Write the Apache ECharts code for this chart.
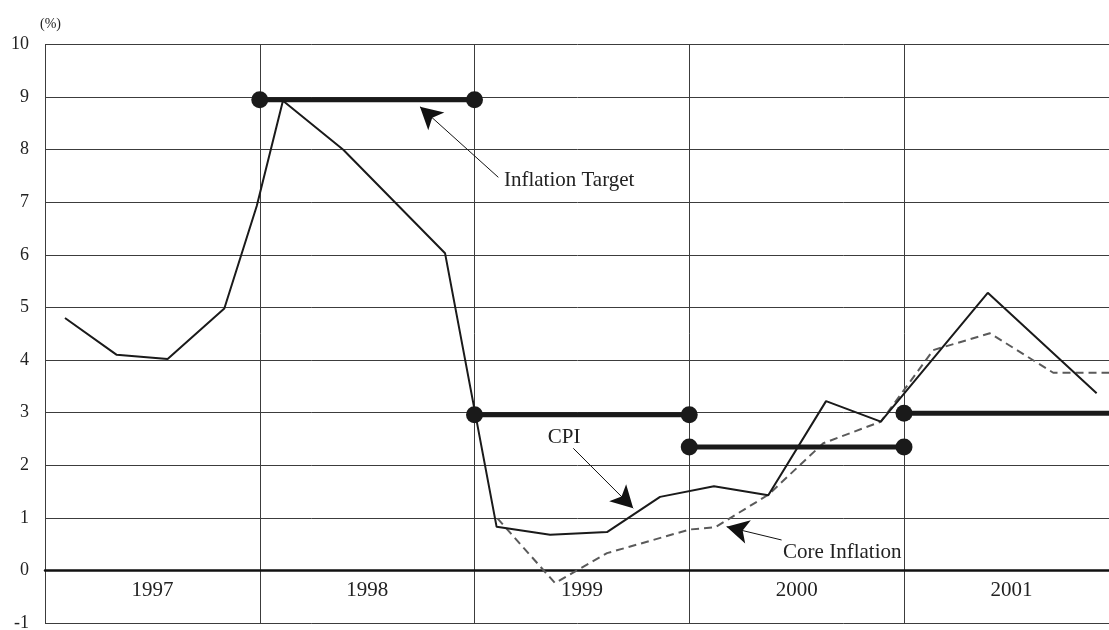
<!DOCTYPE html>
<html>
<head>
<meta charset="utf-8">
<title>CPI and Inflation Target</title>
<script src="https://cdn.jsdelivr.net/npm/echarts@6/dist/echarts.min.js"></script>
<style>
  html, body { margin: 0; padding: 0; background: #fff; }
  #chart { width: 1109px; height: 630px; }
</style>
</head>
<body>
<div id="chart"></div>
<script>
// year labels under the zero line
const years = ['1997', '1998', '1999', '2000', '2001'];

// CPI (solid line), x in years
const cpiX = [1997.093, 1997.334, 1997.571, 1997.835, 1997.986, 1998.108, 1998.389, 1998.863,
  1999.103, 1999.352, 1999.617, 1999.864, 2000.115, 2000.368, 2000.637, 2000.892, 2001.390, 2001.897];
const cpiY = [4.80, 4.10, 4.02, 4.98, 6.93, 8.93, 8.00, 6.03,
  0.83, 0.68, 0.73, 1.40, 1.60, 1.43, 3.22, 2.83, 5.28, 3.37];

// core inflation (dashed line)
const coreX = [1999.107, 1999.375, 1999.617, 2000.003, 2000.12, 2000.368, 2000.624, 2000.892,
  2001.136, 2001.40, 2001.695, 2002];
const coreY = [0.99, -0.24, 0.33, 0.78, 0.82, 1.44, 2.42, 2.83, 4.19, 4.51, 3.76, 3.76];

// inflation target per year
const targetStart = [1998, 1999, 2000, 2001];
const targetEnd = [1999, 2000, 2001, 2002];
const targetValue = [8.95, 2.96, 2.35, 2.99];

// annotations (text + arrows), in data coords
const noteText = ['Inflation Target', 'CPI', 'Core Inflation'];
const notePos = [[1999.137, 7.41], [1999.417, 2.53], [2000.437, 0.34]];
const noteAlign = ['left', 'center', 'left'];
const arrowFrom = [[1999.111, 7.475], [1999.460, 2.323], [2000.430, 0.58]];
const arrowTo = [[1998.746, 8.817], [1999.739, 1.183], [2000.174, 0.833]];

const font = 'Liberation Serif';
const ink = '#1a1a1a';
const gridColor = '#3c3c3c';

let myChart = echarts.init(document.getElementById('chart'), null, { renderer: 'canvas' });

let targetSeries = targetValue.map((v, i) => ({
  name: 'target' + i,
  type: 'line',
  data: [[targetStart[i], v], [targetEnd[i], v]],
  symbol: 'circle',
  symbolSize: 17,
  itemStyle: { color: ink },
  lineStyle: { color: ink, width: 5 },
  z: 4
}));

let option = {
  animation: false,
  title: {
    text: '(%)',
    left: 40,
    top: 17,
    padding: 0,
    textStyle: { fontFamily: font, fontSize: 14, fontWeight: 'normal', color: '#222' }
  },
  grid: {
    left: 45,
    right: -9.75,
    top: 44.5,
    bottom: 6.9,
    containLabel: false,
    outerBoundsMode: 'none'
  },
  xAxis: [
    {
      type: 'value',
      min: 1997,
      max: 2002,
      interval: 1,
      axisLine: { show: true, onZero: true, lineStyle: { color: '#111', width: 2.5 } },
      axisTick: { show: false },
      axisLabel: { show: false },
      splitLine: { show: true, lineStyle: { color: gridColor, width: 1 } }
    },
    {
      type: 'category',
      position: 'bottom',
      data: years,
      boundaryGap: true,
      axisLine: { show: false, onZero: false },
      axisTick: { show: false },
      splitLine: { show: false },
      axisLabel: {
        inside: true,
        margin: 32.6,
        verticalAlign: 'middle',
        fontFamily: font,
        fontSize: 21,
        color: '#222'
      }
    }
  ],
  yAxis: {
    type: 'value',
    min: -1,
    max: 10,
    interval: 1,
    axisLine: { show: true, lineStyle: { color: gridColor, width: 1 } },
    axisTick: { show: false },
    axisLabel: { margin: 16, fontFamily: font, fontSize: 18, color: '#222' },
    splitLine: { show: true, lineStyle: { color: gridColor, width: 1 } }
  },
  series: [
    {
      name: 'CPI',
      type: 'line',
      data: cpiX.map((x, i) => [x, cpiY[i]]),
      symbol: 'none',
      lineStyle: { color: ink, width: 2 },
      z: 3,
      markLine: {
        silent: true,
        symbol: ['none', 'arrow'],
        symbolSize: [18, 22],
        label: { show: false },
        lineStyle: { color: '#111', width: 1, type: 'solid' },
        data: arrowFrom.map((p, i) => [{ coord: p }, { coord: arrowTo[i] }])
      },
      markPoint: {
        silent: true,
        symbol: 'circle',
        symbolSize: 1,
        itemStyle: { color: 'rgba(0,0,0,0)' },
        label: {
          show: true,
          position: 'inside',
          fontFamily: font,
          fontSize: 21,
          color: '#222'
        },
        data: noteText.map((t, i) => ({
          coord: notePos[i],
          value: t,
          label: { formatter: t, align: noteAlign[i], verticalAlign: 'middle' }
        }))
      }
    },
    {
      name: 'Core Inflation',
      type: 'line',
      data: coreX.map((x, i) => [x, coreY[i]]),
      symbol: 'none',
      lineStyle: { color: '#5a5a5a', width: 2, type: [8, 5] },
      z: 2
    }
  ].concat(targetSeries)
};

myChart.setOption(option);
</script>
</body>
</html>
